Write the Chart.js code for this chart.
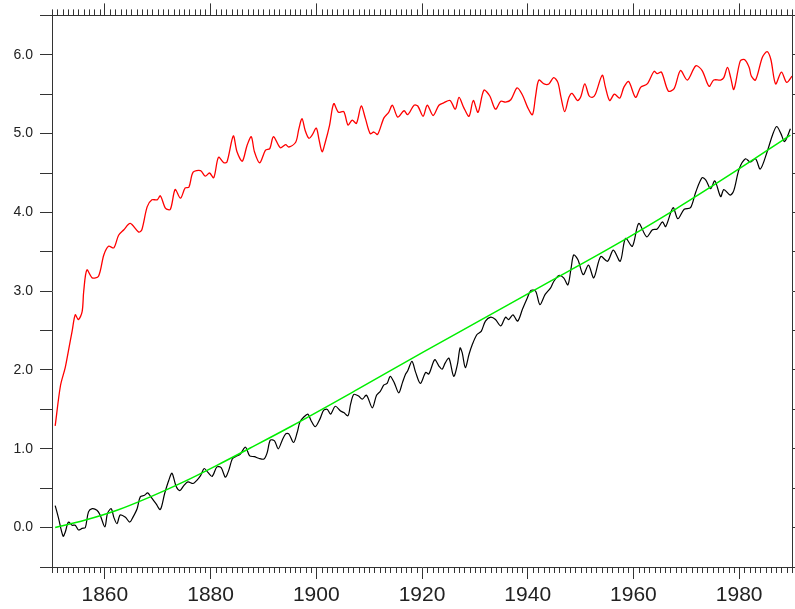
<!DOCTYPE html>
<html>
<head>
<meta charset="utf-8">
<script src="https://cdn.jsdelivr.net/npm/chart.js@4.4.1/dist/chart.umd.min.js"></script>
<style>
  html, body { margin: 0; padding: 0; background: #ffffff; }
  #wrap { width: 795px; height: 609px; }
</style>
</head>
<body>
<div id="wrap"><canvas id="c" width="795" height="609"></canvas></div>
<script>
// ---------- data ----------
const redYears = [1850.6,1851.6,1852.5,1853.1,1853.8,1854.4,1855.0,1855.7,1856.0,1856.6,1857.6,1858.8,1859.8,1860.7,1861.7,1862.6,1863.6,1864.8,1866.4,1867.0,1868.0,1868.9,1869.9,1870.5,1871.5,1872.4,1873.3,1874.3,1875.2,1875.9,1876.7,1878.1,1879.0,1879.8,1880.6,1881.5,1882.5,1883.1,1884.3,1885.0,1886.0,1886.9,1887.7,1888.3,1889.3,1890.4,1891.2,1891.9,1893.2,1894.2,1894.8,1896.1,1896.7,1897.3,1897.9,1898.6,1899.2,1900.0,1900.5,1901.1,1901.7,1902.5,1903.3,1904.2,1905.2,1906.0,1906.8,1907.6,1908.5,1909.3,1910.2,1910.9,1911.6,1912.8,1913.7,1914.4,1915.4,1916.6,1917.3,1918.5,1919.2,1920.2,1921.0,1922.1,1923.2,1924.1,1925.3,1926.3,1927.0,1927.9,1928.9,1929.7,1930.6,1931.7,1932.8,1933.9,1934.9,1935.8,1936.8,1938.0,1939.0,1940.0,1940.9,1941.5,1942.1,1943.1,1944.0,1944.9,1945.7,1946.3,1947.0,1947.8,1948.4,1949.4,1950.0,1950.8,1951.6,1952.2,1952.8,1954.1,1954.7,1955.5,1956.4,1957.4,1958.2,1959.1,1960.4,1961.4,1962.6,1963.9,1964.5,1965.3,1966.6,1967.7,1968.9,1970.2,1971.8,1973.0,1974.3,1975.2,1976.5,1977.1,1977.8,1978.4,1979.0,1980.2,1981.0,1981.9,1982.3,1983.1,1984.4,1985.3,1986.0,1986.9,1988.0,1989.0,1990.0];
const redValues = [1.29,1.80,2.03,2.24,2.49,2.70,2.64,2.74,3.00,3.27,3.17,3.19,3.46,3.57,3.55,3.71,3.78,3.86,3.75,3.78,4.07,4.16,4.16,4.21,4.05,4.04,4.29,4.18,4.31,4.32,4.51,4.53,4.46,4.50,4.44,4.70,4.63,4.64,4.97,4.77,4.65,4.85,4.96,4.77,4.63,4.79,4.81,4.96,4.82,4.86,4.83,4.89,5.06,5.19,5.04,4.94,4.98,5.07,4.93,4.77,4.89,5.10,5.38,5.27,5.28,5.11,5.17,5.13,5.35,5.19,5.00,5.02,4.99,5.20,5.27,5.36,5.21,5.29,5.24,5.36,5.35,5.22,5.36,5.23,5.36,5.39,5.42,5.31,5.46,5.33,5.22,5.42,5.27,5.55,5.48,5.31,5.41,5.40,5.43,5.58,5.49,5.33,5.24,5.48,5.68,5.63,5.63,5.71,5.65,5.46,5.28,5.46,5.51,5.42,5.46,5.63,5.48,5.46,5.50,5.74,5.59,5.42,5.50,5.45,5.59,5.66,5.46,5.59,5.63,5.79,5.76,5.78,5.54,5.57,5.80,5.68,5.86,5.80,5.60,5.68,5.68,5.71,5.84,5.71,5.56,5.92,5.94,5.84,5.73,5.68,5.97,6.04,5.94,5.63,5.78,5.65,5.73];

const blackYears = [1850.6,1851.2,1852.1,1852.5,1853.1,1853.8,1854.4,1855.0,1855.7,1856.3,1856.9,1857.6,1858.5,1859.1,1860.0,1860.5,1861.2,1861.7,1862.3,1862.9,1863.9,1864.7,1865.3,1866.1,1866.7,1867.5,1868.1,1868.7,1869.7,1870.5,1871.3,1872.1,1872.7,1873.5,1874.2,1874.9,1875.7,1876.7,1877.4,1878.1,1878.8,1879.5,1880.3,1881.2,1882.0,1882.8,1883.4,1884.1,1884.7,1885.6,1886.6,1887.4,1888.3,1889.1,1890.1,1890.7,1891.3,1892.1,1892.8,1893.5,1894.2,1894.8,1895.7,1896.4,1896.9,1897.6,1898.4,1899.0,1899.8,1900.7,1901.4,1902.1,1902.7,1903.6,1904.6,1905.2,1906.0,1906.5,1907.1,1908.0,1908.7,1909.5,1910.6,1911.4,1912.1,1912.8,1913.4,1914.0,1914.8,1915.6,1916.3,1916.9,1917.3,1918.1,1918.8,1919.7,1920.7,1921.3,1922.4,1923.2,1923.8,1924.4,1925.1,1926.0,1926.7,1927.2,1927.6,1928.2,1928.9,1929.5,1930.4,1931.2,1932.0,1933.0,1933.9,1934.9,1935.8,1936.4,1937.2,1938.1,1939.0,1939.9,1940.6,1941.5,1942.3,1943.3,1944.3,1944.9,1945.9,1946.8,1947.6,1948.2,1948.7,1949.5,1950.5,1951.5,1952.5,1953.8,1955.1,1956.2,1957.5,1958.5,1959.8,1961.0,1962.5,1963.6,1964.5,1965.5,1966.1,1967.5,1968.4,1969.6,1970.8,1971.8,1973.0,1973.7,1974.6,1975.4,1976.5,1977.1,1978.3,1979.0,1980.0,1981.2,1982.1,1983.1,1984.0,1985.3,1986.3,1987.1,1987.9,1988.6,1989.7];
const blackValues = [0.28,0.13,-0.11,-0.06,0.07,0.03,0.03,-0.03,-0.01,0.00,0.20,0.24,0.22,0.16,0.01,0.18,0.24,0.13,0.05,0.16,0.13,0.07,0.13,0.24,0.39,0.41,0.44,0.39,0.30,0.23,0.43,0.60,0.69,0.52,0.47,0.53,0.58,0.56,0.60,0.66,0.75,0.70,0.65,0.77,0.76,0.64,0.72,0.87,0.90,0.93,1.02,0.91,0.90,0.88,0.87,0.95,1.11,1.10,1.00,1.10,1.19,1.19,1.08,1.21,1.34,1.40,1.44,1.36,1.28,1.38,1.49,1.50,1.44,1.54,1.48,1.46,1.42,1.57,1.69,1.67,1.63,1.68,1.52,1.68,1.73,1.81,1.83,1.92,1.83,1.71,1.84,1.95,1.99,2.11,1.97,1.83,1.97,1.95,2.13,2.05,2.01,2.09,2.15,1.92,2.07,2.28,2.22,2.03,2.20,2.32,2.45,2.49,2.62,2.67,2.64,2.56,2.67,2.64,2.70,2.62,2.77,2.91,3.01,3.00,2.83,2.96,3.04,3.12,3.20,3.17,3.08,3.29,3.46,3.40,3.21,3.33,3.17,3.44,3.38,3.52,3.38,3.67,3.57,3.86,3.69,3.78,3.79,3.88,3.82,4.06,3.92,4.04,4.06,4.26,4.44,4.41,4.30,4.40,4.20,4.29,4.22,4.28,4.55,4.68,4.64,4.68,4.55,4.77,4.98,5.09,5.00,4.90,5.06];

const greenYears  = [1850.6,1856.0,1862.3,1868.6,1874.9,1881.2,1887.5,1895.1,1907.7,1920.3,1931.0,1943.3,1955.1,1967.7,1980.4,1989.7];
const greenValues = [0.00,0.09,0.22,0.39,0.58,0.79,1.01,1.28,1.75,2.23,2.63,3.09,3.53,4.03,4.57,4.98];

const xMin = 1850, xMax = 1990;
const yMin = -0.5, yMax = 6.5;
const xTickLabels = [1860, 1880, 1900, 1920, 1940, 1960, 1980];
const yTickLabels = ['0.0', '1.0', '2.0', '3.0', '4.0', '5.0', '6.0'];

// ---------- chart ----------
const toPts = (xs, ys) => xs.map((x, i) => ({ x: x, y: ys[i] }));
const AXIS = '#333333';

const minorTicks = {
  id: 'minorTicks',
  afterDraw(chart) {
    const ctx = chart.ctx;
    const xs = chart.scales.x;
    const area = chart.chartArea;
    ctx.save();
    ctx.strokeStyle = AXIS;
    ctx.lineWidth = 1;
    ctx.beginPath();
    for (let yr = xMin; yr <= xMax; yr++) {
      if (xTickLabels.includes(yr)) continue;
      const px = Math.round(xs.getPixelForValue(yr)) + 0.5;
      ctx.moveTo(px, area.top);
      ctx.lineTo(px, area.top - 6);
      ctx.moveTo(px, area.bottom);
      ctx.lineTo(px, area.bottom + 6);
    }
    ctx.stroke();
    ctx.restore();
  }
};

new Chart(document.getElementById('c'), {
  type: 'line',
  data: {
    datasets: [
      { label: 'fit', data: toPts(greenYears, greenValues), borderColor: '#00ee00', borderWidth: 1.5, pointRadius: 0, cubicInterpolationMode: 'monotone', fill: false },
      { label: 'black', data: toPts(blackYears, blackValues), borderColor: '#000000', borderWidth: 1.2, pointRadius: 0, tension: 0.3, fill: false },
      { label: 'red', data: toPts(redYears, redValues), borderColor: '#ff0000', borderWidth: 1.3, pointRadius: 0, tension: 0.3, fill: false }
    ]
  },
  options: {
    responsive: false,
    animation: false,
    devicePixelRatio: 1,
    layout: { padding: 0 },
    plugins: { legend: { display: false }, tooltip: { enabled: false } },
    scales: {
      x: {
        type: 'linear', position: 'bottom', min: xMin, max: xMax,
        afterBuildTicks: (s) => { s.ticks = xTickLabels.map(v => ({ value: v })); },
        ticks: {
          autoSkip: false, maxRotation: 0, padding: 4, color: '#222',
          font: { family: 'Liberation Sans', size: 21 },
          callback: (v) => xTickLabels.includes(v) ? String(v) : ''
        },
        grid: { drawOnChartArea: false, tickLength: 12, color: AXIS, lineWidth: 1 },
        border: { color: AXIS, width: 1 },
        afterFit: (s) => { s.height = 42; }
      },
      x2: {
        type: 'linear', position: 'top', min: xMin, max: xMax,
        afterBuildTicks: (s) => { s.ticks = xTickLabels.map(v => ({ value: v })); },
        ticks: { display: false },
        grid: { drawOnChartArea: false, tickLength: 12, color: AXIS, lineWidth: 1 },
        border: { color: AXIS, width: 1 },
        afterFit: (s) => { s.height = 12; }
      },
      y: {
        type: 'linear', position: 'left', min: yMin, max: yMax,
        ticks: {
          stepSize: 0.5, padding: 7, color: '#222',
          font: { family: 'Liberation Sans', size: 14 },
          callback: (v) => {
            const lbl = Number(v).toFixed(1);
            return yTickLabels.includes(lbl) ? lbl : '';
          }
        },
        grid: { drawOnChartArea: false, tickLength: 12, color: AXIS, lineWidth: 1 },
        border: { color: AXIS, width: 1 },
        afterFit: (s) => { s.width = 52; }
      },
      y2: {
        type: 'linear', position: 'right', min: yMin, max: yMax,
        ticks: { display: false, stepSize: 0.5 },
        grid: { drawOnChartArea: false, tickLength: 3, color: AXIS, lineWidth: 1 },
        border: { color: AXIS, width: 1 },
        afterFit: (s) => { s.width = 3; }
      }
    }
  },
  plugins: [minorTicks]
});
</script>
</body>
</html>
